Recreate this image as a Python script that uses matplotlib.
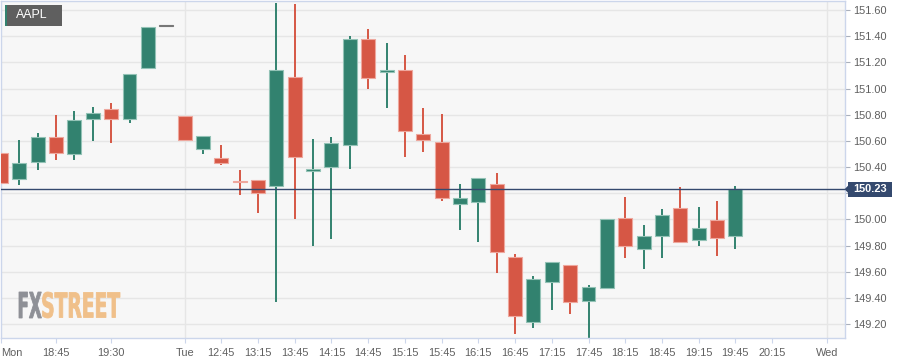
import matplotlib
matplotlib.use('Agg')
import matplotlib.pyplot as plt
from matplotlib.patches import Rectangle, Polygon, PathPatch
from matplotlib.textpath import TextPath
from matplotlib.font_manager import FontProperties
from matplotlib.transforms import Affine2D

plt.rcParams['font.family'] = ['Liberation Sans', 'DejaVu Sans']

# --- DATA (15 min AAPL candles) ---
opens = [150.51, 150.31, 150.44, 150.63, 150.50, 150.77, 150.84, 150.77, 151.16, 151.48,
         150.79, 150.54, 150.47, 150.295, 150.30, 150.255, 151.09, 150.372, 150.40, 150.57,
         151.38, 151.124, 151.14, 150.652, 150.59, 150.115, 150.13, 150.27, 149.714, 149.218,
         149.52, 149.653, 149.373, 149.473, 150.008, 149.771, 149.87, 150.089, 149.842, 149.993,
         149.873]
highs = [150.51, 150.61, 150.66, 150.80, 150.83, 150.86, 150.89, 151.11, 151.47, 151.48,
         150.79, 150.64, 150.57, 150.377, 150.30, 151.656, 151.646, 150.614, 150.63, 151.40,
         151.455, 151.348, 151.256, 150.853, 150.805, 150.27, 150.313, 150.356, 149.735, 149.567,
         149.674, 149.653, 149.498, 150.00, 150.171, 149.957, 150.079, 150.249, 150.094, 150.14,
         150.255]
lows = [150.14, 150.26, 150.38, 150.45, 150.45, 150.60, 150.58, 150.74, 151.16, 151.48,
        150.60, 150.50, 150.415, 150.186, 150.05, 149.37, 150.00, 149.796, 149.85, 150.385,
        151.00, 150.853, 150.48, 150.517, 150.14, 149.92, 149.83, 149.59, 149.124, 149.172,
        149.307, 149.276, 149.07, 149.465, 149.707, 149.62, 149.707, 149.824, 149.796, 149.72,
        149.773]
closes = [150.28, 150.43, 150.63, 150.51, 150.76, 150.81, 150.77, 151.11, 151.47, 151.48,
          150.61, 150.64, 150.43, 150.283, 150.20, 151.14, 150.48, 150.382, 150.58, 151.38,
          151.08, 151.141, 150.675, 150.604, 150.16, 150.161, 150.313, 149.75, 149.26, 149.546,
          149.674, 149.37, 149.483, 150.00, 149.794, 149.87, 150.033, 149.824, 149.931, 149.86,
          150.23]
last_price = 150.23
symbol = 'AAPL'

xtick_pos = [0, 3, 6, 10, 12, 14, 16, 18, 20, 22, 24, 26, 28, 30, 32, 34, 36, 38, 40, 42, 45]
xtick_labels = ['Mon', '18:45', '19:30', 'Tue', '12:45', '13:15', '13:45', '14:15', '14:45',
                '15:15', '15:45', '16:15', '16:45', '17:15', '17:45', '18:15', '18:45', '19:15',
                '19:45', '20:15', 'Wed']
day_breaks = [10, 45]
ytick_vals = [149.20, 149.40, 149.60, 149.80, 150.00, 150.20, 150.40, 150.60, 150.80,
              151.00, 151.20, 151.40, 151.60]

# --- STYLE ---
UP = '#32826f'
UP_EDGE = '#93c2b6'
DOWN = '#d65745'
DOWN_EDGE = '#eea79d'
FLAT = '#777777'
GRID = '#e6e6e6'
BORDER = '#ccd6eb'
NAVY = '#34496e'

W, H = 916, 364
fig = plt.figure(figsize=(W / 100, H / 100), dpi=100)
fig.patch.set_facecolor('white')
ax = fig.add_axes([1 / W, (H - 338) / H, 844 / W, 337 / H])
ax.set_facecolor('#f7f7f7')

# --- CANDLES ---
for i, (o, h, l, c) in enumerate(zip(opens, highs, lows, closes)):
    if c > o:
        col, edge = UP, UP_EDGE
    elif c < o:
        col, edge = DOWN, DOWN_EDGE
    else:
        col, edge = FLAT, FLAT
    if h > max(o, c) or l < min(o, c):
        ax.vlines(i, l, h, color=col, linewidth=1.4, zorder=2)
    body = max(abs(c - o), 0.011)
    ax.bar(i, body, bottom=min(o, c) if c != o else o - body / 2, width=0.76,
           color=col, edgecolor=edge, linewidth=0.8, zorder=3)

# current price line
ax.axhline(last_price, color=NAVY, linewidth=1.0, zorder=4)

# --- AXES ---
ax.set_xlim(0.054, 45.97)
ax.set_ylim(149.093, 151.669)

for y in ytick_vals:
    ax.axhline(y, color=GRID, linewidth=1.0, zorder=0)
for d in day_breaks:
    ax.axvline(d, color=GRID, linewidth=1.0, zorder=0)

ax.yaxis.tick_right()
ax.set_yticks(ytick_vals)
ax.set_yticklabels(['' if abs(v - 150.20) < 1e-6 else f'{v:.2f}' for v in ytick_vals])
ax.tick_params(axis='y', direction='out', length=3.6, width=0.8, color='#aab0bb',
               pad=2.5, labelsize=7.9, labelcolor='#5f5f5f')

ax.set_xticks(xtick_pos)
ax.set_xticklabels(xtick_labels)
ax.tick_params(axis='x', direction='out', length=3.6, width=0.8, color=BORDER,
               pad=3.5, labelsize=7.9, labelcolor='#5f5f5f')
ax.get_xticklabels()[0].set_horizontalalignment('left')
ax.get_xticklabels()[0].set_x(0)

for s in ax.spines.values():
    s.set_color(BORDER)
    s.set_linewidth(1.0)

# --- last price flag on the right ---
to_fig = ax.transData + fig.transFigure.inverted()
_, yf = to_fig.transform((0, last_price))
ypx = yf * H
fig.add_artist(Rectangle((848 / W, (ypx - 7.5) / H), 43.5 / W, 15 / H,
                         transform=fig.transFigure, facecolor=NAVY, edgecolor='none', zorder=5))
fig.add_artist(Polygon([(848 / W, (ypx + 3.5) / H), (844.5 / W, ypx / H), (848 / W, (ypx - 3.5) / H)],
                       closed=True, transform=fig.transFigure, facecolor=NAVY,
                       edgecolor='none', zorder=5))
fig.text(869.8 / W, ypx / H, f'{last_price:.2f}', color='white', fontsize=7.9,
         fontweight='bold', ha='center', va='center', zorder=6)

# --- symbol tag top left ---
fig.add_artist(Rectangle((5 / W, (H - 26) / H), 57 / W, 21 / H, transform=fig.transFigure,
                         facecolor='#5f5f5f', edgecolor='none', zorder=5))
fig.add_artist(Rectangle((5 / W, (H - 26) / H), 2 / W, 21 / H, transform=fig.transFigure,
                         facecolor=UP, edgecolor='none', zorder=6))
fig.text(15.5 / W, (H - 15.5) / H, symbol, color='white', fontsize=8.9,
         ha='left', va='center', zorder=6)

# --- watermark, squeezed into its box ---
def wordmark(txt, x0, x1, y0, y1, color):
    fp = FontProperties(family=['Liberation Sans Narrow', 'DejaVu Sans'], weight='bold')
    tp = TextPath((0, 0), txt, size=10, prop=fp)
    ext = tp.get_extents()
    sx = (x1 - x0) / W / ext.width
    sy = (y1 - y0) / H / ext.height
    tr = Affine2D().translate(-ext.x0, -ext.y0).scale(sx, sy).translate(x0 / W, (H - y1) / H)
    fig.add_artist(PathPatch(tr.transform_path(tp), transform=fig.transFigure,
                             facecolor=color, edgecolor=color, linewidth=0.6, zorder=4))

wordmark('FX', 19, 41.5, 292, 318, '#8e9096')
wordmark('STREET', 42.5, 120, 292, 318, '#f0c08a')

fig.savefig('out.png', dpi=100, facecolor='white')
